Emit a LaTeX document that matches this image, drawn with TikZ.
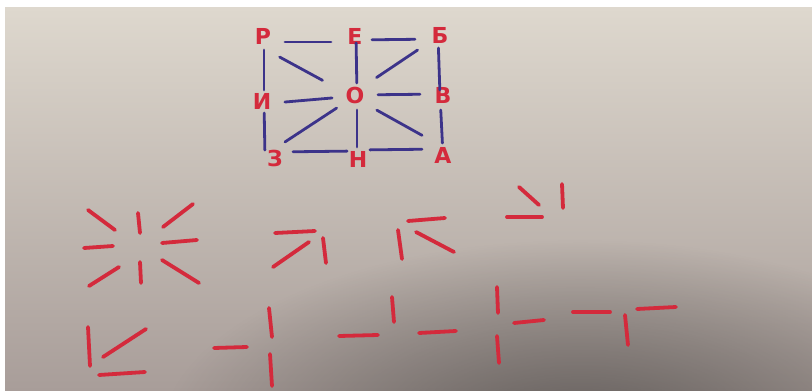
\documentclass[tikz,border=0pt]{standalone}
\usepackage{fontspec}
\setmainfont{DejaVu Sans}
\usetikzlibrary{fadings}
\definecolor{paperTop}{HTML}{DED8CE}
\definecolor{paperMid}{HTML}{CEC7BD}
\definecolor{paperBot}{HTML}{A89D99}
\definecolor{shadowc}{HTML}{4E4A48}
\definecolor{redink}{HTML}{D42A3C}
\definecolor{blueink}{HTML}{3C338A}
\tikzfading[name=softfade, inner color=transparent!0, outer color=transparent!100]
\begin{document}
\begin{tikzpicture}[x=1pt,y=-1pt,
  letter/.style={text=redink, font=\fontsize{22}{22}\selectfont\bfseries, inner sep=0pt},
  blu/.style={draw=blueink, line width=2.8pt, line cap=round},
  rd/.style={draw=redink, line width=3.8pt, line cap=round}]
\useasboundingbox (0,0) rectangle (812,391);
% paper background
\fill[white] (0,0) rectangle (812,391);
\shade[top color=paperTop, middle color=paperMid, bottom color=paperBot] (5,7) rectangle (812,391);
\begin{scope}
\clip (5,7) rectangle (812,391);
\fill[shadowc, path fading=softfade, opacity=0.8] (580,440) ellipse [x radius=420, y radius=200];
\end{scope}
% letters
\node[letter] (P) at (263,36) {Р};
\node[letter] (E) at (355,36) {Е};
\node[letter] (B) at (440,35) {Б};
\node[letter] (I) at (262,101) {И};
\node[letter] (O) at (355,95) {О};
\node[letter] (V) at (443,95) {В};
\node[letter] (Z) at (275,158) {З};
\node[letter] (N) at (358,159) {Н};
\node[letter] (A) at (443,155) {А};
% blue connectors
\draw[blu, shorten <=22pt, shorten >=24pt] ([yshift=-6pt]P.center) -- ([yshift=-6pt]E.center);
\draw[blu, shorten <=17pt, shorten >=25pt] ([yshift=-4pt]E.center) -- ([yshift=-4pt]B.center);
\draw[blu, shorten <=14pt, shorten >=11pt] ([xshift=1pt]P.center) -- ([xshift=2pt]I.center);
\draw[blu, shorten <=12pt, shorten >=8pt] ([xshift=2pt]I.center) -- ([xshift=-10pt]Z.center);
\draw[blu, shorten <=13pt, shorten >=5pt] ([xshift=-2pt]B.center) -- ([xshift=-3pt]V.center);
\draw[blu, shorten <=15pt, shorten >=12pt] ([xshift=-3pt]V.center) -- (A.center);
\draw[blu, shorten <=18pt, shorten >=11pt] ([yshift=6pt]Z.center) -- ([yshift=8pt]N.center);
\draw[blu, shorten <=12pt, shorten >=21pt] ([yshift=9pt]N.center) -- ([yshift=6pt]A.center);
\draw[blu, shorten <=7pt, shorten >=12pt] ([xshift=1pt]E.center) -- ([xshift=2pt]O.center);
\draw[blu, shorten <=15pt, shorten >=12pt] ([xshift=2pt]O.center) -- ([xshift=-1pt]N.center);
\draw[blu, shorten <=23pt, shorten >=23pt] ([yshift=-3pt]I.center) -- ([yshift=-1pt]O.center);
\draw[blu, shorten <=23pt, shorten >=23pt] (O.center) -- ([yshift=1pt]V.center);
\draw[blu, shorten <=19pt, shorten >=37pt] ([yshift=-12pt]P.center) -- ([yshift=-3pt]O.center);
\draw[blu, shorten <=27pt, shorten >=26pt] (B.center) -- ([yshift=3pt]O.center);
\draw[blu, shorten <=12pt, shorten >=22pt] ([yshift=9.5pt]Z.center) -- ([yshift=-1pt]O.center);
\draw[blu, shorten <=25pt, shorten >=24pt] ([yshift=-3pt]O.center) -- ([yshift=8pt]A.center);
% red stick figures
\foreach \xa/\ya/\xb/\yb in {
  88/210/115/230, 138/213/140/233, 163/227/193/204, 84/248/113/246,
  162/243/197/240, 89/286/119/267, 140/262/141/283, 162/260/199/283,
  275/233/315/231, 273/267/309/242, 323/238/326/263,
  398/230/402/259, 408/221/445/218, 416/232/454/252,
  519/187/539/205, 507/217/542/217, 562/184/563/208,
  88/327/90/366, 103/357/146/329, 99/375/145/372,
  214/348/247/347, 269/308/272/337, 270/354/272/386,
  339/336/378/335, 392/297/394/322, 419/333/456/331,
  497/287/498/313, 514/323/544/320, 497/336/499/363,
  573/312/610/312, 625/315/628/345, 637/309/676/307}
  \draw[rd] (\xa,\ya) -- (\xb,\yb);
\end{tikzpicture}
\end{document}
